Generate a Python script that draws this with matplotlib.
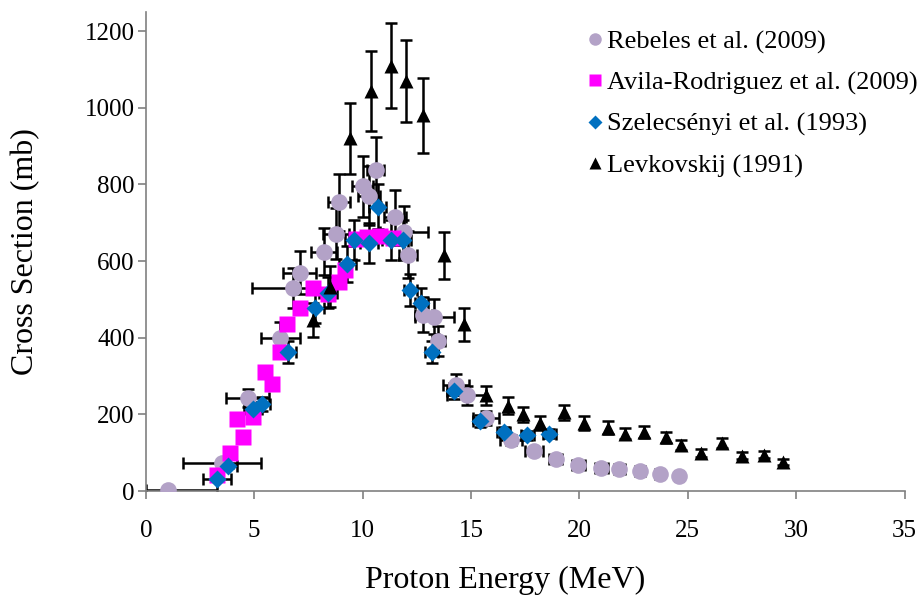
import matplotlib.pyplot as plt
from matplotlib.lines import Line2D
import numpy as np

plt.rcParams['font.family'] = ['Liberation Serif', 'DejaVu Serif']

# Rebeles et al. (2009)
reb_e = [1.0, 3.5, 4.7, 6.2, 6.8, 7.1, 8.2, 8.75, 8.9, 10.0, 10.3, 10.6, 11.5, 11.9, 12.1,
         12.8, 13.3, 13.5, 14.3, 14.8, 15.7, 16.85, 17.9, 18.9, 19.95, 21.0, 21.85, 22.8, 23.7, 24.6]
reb_s = [3, 73, 243, 400, 530, 570, 625, 672, 753, 795, 771, 839, 714, 677, 617,
         460, 455, 392, 277, 250, 190, 133, 105, 83, 69, 60, 57, 53, 44, 40]
reb_xlo = [1.0, 1.8, 1.0, 0.9, 1.9, 0.75, 0.6, 0.6, 0.5, 0.5, 0.5, 0.4, 0.5, 1.1, 0.4,
           0.4, 0.9, 0.3, 0.6, 0.9, 0.6, 0.5, 0.4, 0.3, 0.3, 0.3, 0.25, 0.25, 0.2, 0.2]
reb_xhi = [2.3] + reb_xlo[1:]

# Avila-Rodriguez et al. (2009)
avi_e = [3.3, 3.9, 4.2, 4.5, 4.95, 5.5, 5.8, 6.2, 6.5, 7.1, 7.7, 8.4, 8.9, 9.2,
         9.7, 10.2, 10.8, 11.4]
avi_s = [42, 100, 188, 141, 193, 311, 280, 363, 437, 478, 530, 513, 546, 578,
         658, 664, 666, 660]

# Szelecsényi et al. (1993)
sze_e = [3.3, 3.8, 4.95, 5.35, 6.55, 7.8, 8.4, 9.3, 9.6, 10.3, 10.7, 11.3, 11.85,
         12.2, 12.7, 13.2, 14.2, 15.4, 16.5, 17.6, 18.6]
sze_s = [31, 65, 214, 227, 363, 478, 518, 593, 656, 648, 742, 656, 656,
         525, 490, 363, 262, 183, 154, 145, 149]
sze_xerr = [0.65, 0.4, 0.4, 0.4, 0.4, 0.4, 0.4, 0.4, 0.4, 0.4, 0.4, 0.4, 0.4,
            0.3, 0.3, 0.3, 0.3, 0.3, 0.3, 0.3, 0.3]

# Levkovskij (1991)
lev_e = [7.7, 8.5, 9.4, 10.4, 11.3, 12.0, 12.8, 13.75, 14.7, 15.7, 16.7, 17.4, 18.2,
         19.3, 20.2, 21.3, 22.1, 23.0, 24.0, 24.7, 25.6, 26.6, 27.5, 28.5, 29.4]
lev_s = [447, 533, 920, 1043, 1110, 1070, 980, 615, 435, 250, 222, 200, 178,
         205, 178, 165, 150, 155, 140, 120, 100, 125, 92, 95, 75]

fig = plt.figure(figsize=(9.23, 6.01), dpi=100)
ax = fig.add_axes([0.158, 0.183, 0.822, 0.797])

eb = dict(fmt='none', ecolor='black', elinewidth=1.8, capsize=4.5, capthick=1.8, zorder=2)

ax.errorbar(reb_e, reb_s, xerr=[reb_xlo, reb_xhi], yerr=0.1 * np.array(reb_s), **eb)
ax.errorbar(sze_e, sze_s, xerr=sze_xerr, yerr=0.08 * np.array(sze_s), **eb)
ax.errorbar(lev_e, lev_s, yerr=0.1 * np.array(lev_s), **eb)

ax.plot(reb_e, reb_s, 'o', ms=12, color='#B3A2C7', mec='none', zorder=3)
ax.plot(avi_e, avi_s, 's', ms=11, color='#FF00FF', mec='none', zorder=4)
ax.plot(sze_e, sze_s, 'D', ms=9, color='#0070C0', mec='none', zorder=5)
ax.plot(lev_e, lev_s, '^', ms=10.5, color='black', mec='none', zorder=6)

ax.set_xlim(0, 35)
ax.set_ylim(0, 1250)
ax.set_xticks(np.arange(0, 36, 5))
ax.set_yticks(np.arange(0, 1201, 200))
for s in ['top', 'right']:
    ax.spines[s].set_visible(False)
for s in ['left', 'bottom']:
    ax.spines[s].set_color('#808080')
    ax.spines[s].set_linewidth(1.2)
ax.tick_params(direction='out', length=6, width=1.2, color='#808080', labelsize=18)
ax.tick_params(axis='x', pad=15)
ax.tick_params(axis='y', pad=2)

ax.set_xlabel('Proton Energy (MeV)', fontsize=23)
ax.xaxis.set_label_coords(0.473, -0.157)
ax.set_ylabel('Cross Section (mb)', fontsize=23, labelpad=32)

handles = [
    Line2D([], [], ls='none', marker='o', ms=9, color='#B3A2C7', mec='none'),
    Line2D([], [], ls='none', marker='s', ms=9, color='#FF00FF', mec='none'),
    Line2D([], [], ls='none', marker='D', ms=7, color='#0070C0', mec='none'),
    Line2D([], [], ls='none', marker='^', ms=9, color='black', mec='none'),
]
labels = ['Rebeles et al. (2009)', 'Avila-Rodriguez et al. (2009)',
          'Szelecsényi et al. (1993)', 'Levkovskij (1991)']
fig.legend(handles, labels, loc='upper left', bbox_to_anchor=(0.626, 0.968),
           frameon=False, fontsize=19, handlelength=0.5, handletextpad=0.2,
           labelspacing=0.66, borderaxespad=0)

fig.savefig('out.png', dpi=100)
